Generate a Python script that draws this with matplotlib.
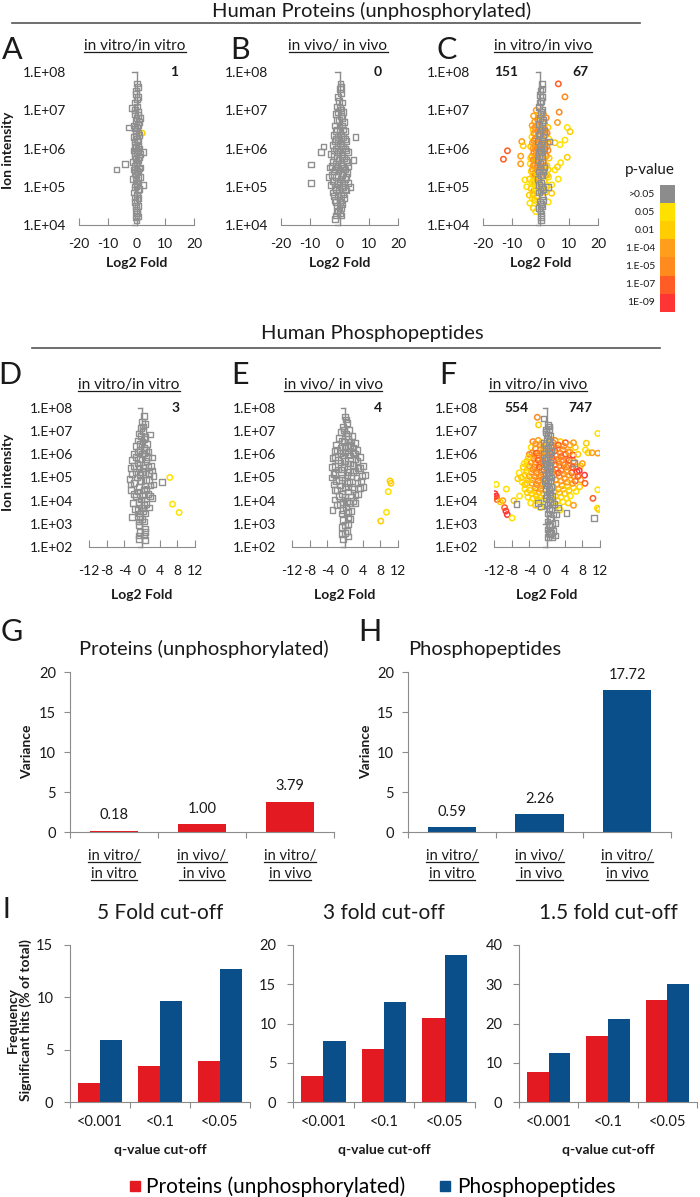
import numpy as np
import matplotlib.pyplot as plt
from matplotlib.lines import Line2D

plt.rcParams['font.family'] = ['Lato', 'DejaVu Sans']

# ---- scatter data: (log2 fold, log10 ion intensity) ----
a_gray = [(0.2, 7.7), (-0.3, 7.5), (0.5, 7.35), (-0.5, 7.2), (0.1, 7.1), (0.6, 6.95), (-0.6, 6.9),
          (0.0, 6.8), (0.8, 6.7), (-0.8, 6.6), (0.3, 6.55), (-0.2, 6.45), (1.0, 6.35), (-1.0, 6.3),
          (0.4, 6.2), (-0.4, 6.1), (0.9, 6.0), (-0.9, 5.95), (0.2, 5.9), (1.4, 5.85), (-0.6, 5.8),
          (0.6, 5.7), (-1.2, 5.65), (0.0, 5.6), (1.1, 5.5), (-0.8, 5.45), (0.5, 5.4), (-0.3, 5.3),
          (1.2, 5.25), (-1.1, 5.2), (0.3, 5.1), (2.4, 5.05), (-0.5, 5.0), (0.8, 4.95), (-0.9, 4.85),
          (0.1, 4.8), (0.7, 4.7), (-0.4, 4.6), (0.4, 4.5), (-0.2, 4.4), (0.3, 4.3), (-0.1, 4.2),
          (0.0, 4.12), (-7.0, 5.45), (-4.1, 5.6), (2.4, 5.9), (-2.7, 6.55), (1.3, 6.8), (-1.5, 7.05)]
a_gray_fill = [(0.5, 7.6), (-0.1, 7.42), (0.3, 7.28), (-0.4, 7.0), (0.4, 6.88), (-0.1, 6.72), (0.5, 6.62),
               (-0.6, 6.52), (0.7, 6.42), (-0.3, 6.32), (0.1, 6.25), (-0.7, 6.18), (0.6, 6.08), (-0.2, 6.02),
               (0.4, 5.95), (-0.4, 5.88), (0.9, 5.78), (-0.1, 5.72), (0.3, 5.62), (-0.7, 5.55), (0.8, 5.48),
               (0.1, 5.42), (-0.6, 5.35), (0.6, 5.22), (-0.2, 5.18), (0.0, 5.02), (0.5, 4.9), (-0.6, 4.72),
               (0.2, 4.65), (-0.3, 4.5), (0.1, 4.35), (0.4, 4.22)]
a_sig = [(2.0, 6.4, 2)]

b_gray = [(0.3, 7.7), (0.1, 7.55), (0.6, 7.45), (-0.4, 7.35), (0.8, 7.2), (-0.8, 7.1), (0.2, 7.05),
          (1.2, 6.95), (-1.2, 6.9), (0.5, 6.85), (-0.2, 6.75), (1.6, 6.7), (-1.6, 6.6), (0.9, 6.6),
          (-0.9, 6.5), (2.0, 6.45), (0.1, 6.45), (-2.0, 6.35), (1.3, 6.3), (-1.3, 6.25), (2.4, 6.2),
          (-0.5, 6.2), (0.7, 6.1), (-2.4, 6.1), (1.8, 6.0), (-1.8, 5.95), (0.0, 5.95), (2.8, 5.9),
          (-2.8, 5.85), (1.0, 5.8), (-1.0, 5.75), (2.2, 5.7), (-2.2, 5.65), (0.4, 5.6), (3.1, 5.55),
          (-3.3, 5.5), (1.5, 5.5), (-1.5, 5.45), (-0.3, 5.4), (2.6, 5.35), (-2.6, 5.3), (0.8, 5.3),
          (-3.8, 5.25), (1.9, 5.2), (-1.9, 5.15), (0.0, 5.1), (2.9, 5.1), (-2.9, 5.05), (1.2, 5.0),
          (-1.2, 4.95), (2.3, 4.9), (-2.3, 4.85), (0.5, 4.8), (-0.6, 4.75), (1.7, 4.7), (-1.7, 4.65),
          (0.1, 4.6), (1.0, 4.55), (-1.0, 4.5), (0.4, 4.45), (-0.5, 4.38), (-1.2, 4.25), (-1.6, 4.15),
          (0.2, 4.3), (-9.7, 5.58), (-9.7, 5.1), (-6.4, 5.9), (-5.5, 6.05), (5.5, 6.3), (4.8, 5.7),
          (3.8, 5.0)]
b_gray_fill = [(0.6, 7.6), (-0.2, 7.25), (0.4, 7.0), (-0.6, 6.95), (0.9, 6.8), (-1.0, 6.75), (0.0, 6.6),
               (1.4, 6.5), (-1.2, 6.45), (0.5, 6.35), (-0.4, 6.3), (1.8, 6.25), (-1.6, 6.2), (0.2, 6.15),
               (1.2, 6.05), (-1.4, 6.0), (2.2, 5.95), (-0.6, 5.9), (0.7, 5.85), (-2.0, 5.8), (1.6, 5.75),
               (-0.3, 5.7), (2.6, 5.65), (-1.4, 5.6), (0.9, 5.55), (-2.6, 5.55), (1.9, 5.45), (-0.8, 5.5),
               (0.2, 5.45), (-2.0, 5.4), (1.2, 5.35), (2.3, 5.25), (-1.2, 5.25), (0.5, 5.2), (-2.4, 5.15),
               (1.5, 5.1), (-0.6, 5.1), (0.8, 5.0), (-1.6, 5.0), (1.9, 4.95), (-0.2, 4.9), (-2.0, 4.75),
               (1.3, 4.8), (0.6, 4.65), (-1.3, 4.6), (0.0, 4.45), (-0.8, 4.35), (0.6, 4.25)]
b_sig = []

c_gray = [(0.4, 7.69), (-0.3, 7.4), (0.6, 7.55), (0.2, 7.25), (-0.5, 7.1), (0.7, 7.0), (0.0, 6.9),
          (1.0, 6.75), (-0.6, 6.65), (0.4, 6.55), (1.4, 6.45), (-0.3, 6.4), (0.8, 6.3), (3.1, 6.18),
          (-0.8, 6.2), (0.2, 6.1), (1.1, 6.0), (-0.5, 5.9), (0.6, 5.8), (-1.0, 5.7), (0.0, 5.6),
          (1.2, 5.5), (-0.4, 5.4), (0.7, 5.3), (-0.8, 5.2), (0.3, 5.1), (2.7, 5.0), (1.0, 4.95),
          (-0.5, 4.85), (0.4, 4.75), (-0.2, 4.6), (0.6, 4.5), (0.0, 4.4), (0.3, 4.3), (0.1, 4.2),
          (0.2, 4.12)]
c_gray_fill = [(0.0, 7.5), (0.5, 7.35), (-0.2, 7.2), (0.3, 6.95), (-0.3, 6.8), (0.5, 6.7), (0.0, 6.5),
               (-0.5, 6.35), (0.5, 6.2), (-0.2, 6.0), (0.3, 5.9), (-0.6, 5.8), (0.4, 5.65), (-0.2, 5.5),
               (0.8, 5.4), (0.1, 5.3), (-0.5, 5.05), (0.6, 5.0), (0.0, 4.9), (0.8, 4.65), (-0.4, 4.45),
               (0.3, 4.55)]
c_sig = [(6.2, 7.69, 5), (8.5, 7.35, 4), (6.5, 6.95, 4), (5.9, 6.68, 3), (9.3, 6.55, 1), (10.3, 6.44, 2),
         (8.5, 6.22, 1), (5.0, 6.15, 2), (6.8, 6.1, 1), (-11.5, 5.94, 5), (-12.9, 5.72, 5), (-6.5, 6.18, 3),
         (-6.0, 6.07, 2), (-6.9, 5.8, 3), (-6.9, 5.6, 3), (9.3, 5.77, 2), (7.0, 5.63, 1), (5.9, 5.52, 2),
         (6.2, 5.2, 1), (5.0, 5.44, 1), (3.9, 5.05, 1), (3.9, 4.83, 2), (-5.4, 5.18, 1), (-4.8, 5.0, 1),
         (-3.9, 4.78, 2), (-3.7, 4.57, 1), (-2.5, 4.44, 2), (-1.6, 4.35, 1), (2.7, 4.6, 1), (2.2, 5.0, 2),
         (-1.5, 7.0, 3), (-0.8, 6.85, 2), (-2.0, 6.7, 3), (-1.2, 6.6, 4), (-2.6, 6.5, 2), (-1.7, 6.4, 3),
         (-0.7, 6.35, 4), (-3.0, 6.3, 1), (-2.2, 6.2, 4), (-1.3, 6.15, 3), (-3.4, 6.05, 2), (-2.6, 6.0, 3),
         (-1.6, 5.95, 4), (-0.8, 5.9, 3), (-3.0, 5.8, 3), (-2.0, 5.75, 4), (-1.1, 5.7, 2), (-3.6, 5.6, 1),
         (-2.6, 5.55, 3), (-1.5, 5.5, 4), (-0.7, 5.45, 3), (-3.2, 5.4, 2), (-2.2, 5.35, 3), (-1.2, 5.3, 2),
         (-3.8, 5.2, 2), (-2.7, 5.15, 1), (-1.8, 5.1, 3), (-0.9, 5.05, 2), (-3.3, 4.95, 2), (-2.3, 4.9, 3),
         (-1.4, 4.85, 1), (-2.9, 4.7, 1), (-2.0, 4.65, 2), (-1.0, 4.6, 1),
         (1.0, 6.9, 3), (2.0, 6.8, 4), (1.4, 6.65, 3), (2.6, 6.55, 2), (0.9, 6.45, 4), (1.8, 6.35, 3),
         (2.9, 6.25, 1), (1.2, 6.15, 4), (2.3, 6.05, 3), (0.8, 5.95, 3), (1.7, 5.85, 4), (3.0, 5.75, 2),
         (1.1, 5.65, 3), (2.2, 5.55, 2), (0.9, 5.4, 2), (1.8, 5.3, 3), (2.8, 5.25, 1), (1.3, 5.15, 2),
         (2.2, 5.05, 1), (1.0, 4.95, 1), (1.7, 4.85, 2)]
c_sig_fill = [(-2.4, 6.85, 3), (-1.0, 6.75, 4), (-1.9, 6.55, 4), (-2.9, 6.6, 3), (-0.9, 6.55, 3),
              (-2.3, 6.4, 3), (-1.0, 6.45, 4), (-1.9, 6.25, 4), (-2.8, 6.15, 3), (-0.6, 6.1, 4),
              (-1.9, 6.05, 3), (-1.1, 6.0, 4), (-2.3, 5.9, 4), (-1.3, 5.85, 3), (-3.4, 5.75, 2),
              (-2.5, 5.7, 4), (-1.6, 5.7, 3), (-0.6, 5.65, 4), (-2.0, 5.55, 3), (-1.0, 5.5, 4),
              (-2.8, 5.45, 3), (-1.8, 5.3, 4), (-0.8, 5.25, 3), (-2.6, 5.3, 2), (-1.4, 5.15, 2),
              (-2.2, 5.05, 2), (-3.0, 5.1, 1), (-1.8, 4.95, 1), (-2.6, 4.8, 2), (-1.2, 4.75, 2),
              (1.5, 6.5, 4), (2.3, 6.4, 4), (0.8, 6.25, 3), (1.6, 6.1, 4), (2.6, 6.15, 3), (1.3, 5.95, 4),
              (2.0, 5.8, 3), (2.6, 5.95, 4), (0.7, 5.75, 3), (1.5, 5.55, 4), (2.6, 5.45, 2), (1.4, 5.35, 3),
              (2.4, 5.3, 2)]

d_gray = [(0.4, 7.64), (0.6, 7.3), (-0.3, 7.15), (1.8, 6.86), (0.2, 7.0), (-0.6, 6.9), (0.8, 6.75),
          (-1.0, 6.6), (0.1, 6.55), (1.2, 6.45), (-1.4, 6.35), (0.5, 6.3), (-0.5, 6.2), (1.5, 6.1),
          (-1.8, 6.0), (0.0, 6.0), (2.2, 5.86), (-2.2, 5.75), (1.0, 5.7), (-1.0, 5.6), (2.0, 5.5),
          (-2.6, 5.4), (0.3, 5.4), (-1.5, 5.25), (1.6, 5.2), (-0.4, 5.1), (2.6, 5.05), (-2.8, 4.95),
          (0.9, 4.9), (4.6, 4.82), (-1.8, 4.75), (1.9, 4.65), (-0.7, 4.6), (-2.5, 4.45), (0.4, 4.45),
          (1.4, 4.3), (-1.4, 4.2), (2.3, 4.1), (-0.2, 4.05), (-2.0, 3.9), (1.0, 3.85), (0.0, 3.7),
          (-1.0, 3.6), (-2.2, 3.3), (0.8, 3.45), (-0.4, 3.3), (0.5, 3.1), (-0.6, 2.95), (0.6, 2.8),
          (-0.5, 2.65), (0.5, 2.5), (-0.6, 2.35), (0.6, 2.3)]
d_gray_fill = [(0.0, 7.4), (0.3, 7.2), (-0.2, 6.8), (0.5, 6.65), (-0.4, 6.45), (0.9, 6.2), (-0.9, 6.1),
               (0.4, 6.05), (-1.4, 5.9), (1.4, 5.9), (-0.4, 5.8), (0.6, 5.55), (-1.8, 5.5), (1.5, 5.45),
               (-0.8, 5.4), (0.0, 5.25), (2.2, 5.3), (-2.2, 5.15), (0.8, 5.15), (-1.2, 5.0), (1.6, 4.9),
               (-0.2, 4.85), (2.6, 4.7), (-2.6, 4.7), (0.6, 4.65), (-1.0, 4.4), (1.0, 4.5), (0.2, 4.25),
               (-1.8, 4.3), (1.8, 4.2), (-0.8, 3.95), (0.5, 3.8), (1.6, 3.7), (-1.6, 3.65), (0.3, 3.55),
               (-0.6, 3.45), (0.0, 3.2), (-0.6, 3.1), (0.6, 2.65), (-0.6, 2.5)]
d_sig = [(6.3, 5.0, 1), (6.9, 3.85, 1), (8.4, 3.49, 1)]

e_gray = [(0.0, 7.63), (0.5, 7.35), (-0.4, 7.2), (1.0, 7.05), (-0.9, 6.95), (0.2, 6.9), (1.6, 6.8),
          (-1.4, 6.7), (0.7, 6.65), (-0.3, 6.55), (2.2, 6.5), (-2.0, 6.4), (1.2, 6.4), (0.0, 6.3),
          (2.8, 6.2), (-2.4, 6.15), (1.8, 6.1), (-1.0, 6.05), (0.6, 6.0), (3.4, 5.9), (-2.8, 5.85),
          (2.4, 5.8), (-1.6, 5.75), (0.0, 5.7), (1.2, 5.6), (4.0, 5.5), (-2.9, 5.45), (3.0, 5.4),
          (-0.8, 5.35), (1.8, 5.25), (-2.2, 5.2), (4.5, 5.1), (0.4, 5.1), (-3.0, 5.0), (2.6, 5.0),
          (-1.4, 4.9), (3.6, 4.85), (1.0, 4.8), (-2.5, 4.7), (4.2, 4.6), (0.0, 4.6), (2.0, 4.5),
          (-1.8, 4.45), (3.0, 4.3), (-0.6, 4.3), (1.4, 4.15), (-2.4, 4.05), (0.5, 4.0), (2.4, 3.9),
          (-1.2, 3.85), (-2.8, 3.6), (0.2, 3.7), (1.5, 3.55), (-0.8, 3.45), (0.8, 3.3), (-0.5, 3.15),
          (0.6, 3.0), (-0.7, 2.85), (0.5, 2.7), (-0.6, 2.55), (0.6, 2.45), (-0.4, 2.35)]
e_gray_fill = [(0.3, 7.5), (-0.2, 7.05), (0.6, 6.8), (-0.6, 6.6), (1.4, 6.55), (-1.0, 6.3), (0.6, 6.35),
               (1.8, 6.3), (-1.8, 6.2), (0.0, 6.1), (2.2, 6.0), (-0.4, 5.95), (1.2, 5.95), (-2.2, 5.9),
               (2.8, 5.7), (-1.0, 5.65), (0.6, 5.6), (1.8, 5.55), (-2.2, 5.5), (3.4, 5.4), (-0.2, 5.45),
               (-1.6, 5.35), (2.4, 5.3), (0.8, 5.25), (-2.6, 5.15), (3.8, 5.05), (1.4, 5.05), (-0.6, 5.0),
               (-2.0, 4.85), (2.8, 4.75), (0.4, 4.75), (-1.2, 4.65), (1.6, 4.6), (3.4, 4.55), (-2.2, 4.45),
               (0.6, 4.4), (2.4, 4.25), (-1.4, 4.2), (0.0, 4.15), (1.8, 4.0), (-0.4, 3.95), (1.0, 3.9),
               (-1.8, 3.8), (0.6, 3.5), (-0.4, 3.6), (1.2, 3.2), (0.0, 2.95), (0.0, 2.6)]
e_sig = [(10.2, 4.85, 2), (10.4, 4.75, 2), (9.8, 4.39, 1), (9.4, 3.5, 1), (8.1, 3.12, 2)]

f_gray = [(-0.8, 7.55), (0.2, 7.27), (0.5, 7.1), (-0.3, 6.95), (0.8, 6.8), (0.0, 6.65), (-0.6, 6.5),
          (0.6, 6.4), (-0.2, 6.25), (1.0, 6.15), (-0.7, 6.0), (0.3, 5.9), (-0.4, 5.75), (0.8, 5.65),
          (6.1, 5.64), (0.0, 5.5), (-0.6, 5.35), (0.5, 5.25), (-0.2, 5.1), (1.0, 5.0), (-0.5, 4.85),
          (0.3, 4.75), (0.9, 4.6), (-0.3, 4.5), (0.4, 4.35), (1.2, 4.2), (-0.2, 4.1), (0.7, 3.95),
          (1.6, 3.85), (0.1, 3.8), (2.5, 3.7), (1.0, 3.6), (0.2, 3.45), (2.0, 3.4), (0.9, 3.25),
          (0.1, 3.1), (1.8, 3.05), (0.7, 2.9), (0.1, 2.75), (1.4, 2.7), (0.6, 2.55), (0.2, 2.42),
          (1.2, 2.42), (-6.9, 3.86), (-1.3, 3.75), (4.4, 3.46), (10.6, 3.25), (-2.0, 3.9)]
f_gray_fill = [(0.4, 7.2), (-0.2, 7.05), (0.3, 6.85), (0.5, 6.55), (-0.3, 6.4), (0.3, 6.3), (0.5, 6.0),
               (-0.2, 5.85), (0.4, 5.55), (-0.3, 5.6), (0.8, 5.4), (0.1, 5.2), (0.5, 5.05), (-0.3, 4.95),
               (0.7, 4.85), (0.0, 4.65), (0.5, 4.5), (0.8, 4.3), (0.0, 4.25), (0.5, 4.05), (1.2, 3.95),
               (0.4, 3.65), (1.4, 3.4), (0.6, 3.25), (1.2, 3.0), (0.4, 2.95), (0.9, 2.6), (1.8, 2.5),
               (0.4, 2.6)]
f_sig = [(-2.2, 7.6, 4), (-1.9, 7.27, 2),
         (-3.2, 6.55, 4), (-2.0, 6.6, 3), (-1.2, 6.5, 2), (-3.6, 6.3, 1), (-2.6, 6.25, 4), (-1.5, 6.2, 3),
         (-0.7, 6.3, 2), (-4.0, 6.0, 4), (-3.0, 5.95, 3), (-2.0, 5.95, 4), (-1.0, 5.9, 3), (-4.6, 5.7, 2),
         (-3.6, 5.65, 4), (-2.6, 5.65, 3), (-1.6, 5.6, 4), (-0.8, 5.55, 3), (-5.4, 5.45, 2), (-4.4, 5.4, 1),
         (-3.2, 5.35, 4), (-2.2, 5.35, 3), (-1.2, 5.25, 4), (-6.3, 5.2, 1), (-5.0, 5.1, 2), (-4.0, 5.05, 3),
         (-2.8, 5.05, 4), (-1.8, 5.0, 3), (-0.8, 4.95, 4), (-6.6, 4.95, 2), (-5.6, 4.8, 1), (-4.5, 4.75, 2),
         (-3.4, 4.75, 3), (-2.4, 4.7, 4), (-1.3, 4.65, 3), (-5.0, 4.5, 1), (-3.9, 4.45, 2), (-2.8, 4.4, 1),
         (-1.8, 4.35, 3), (-0.9, 4.3, 2), (-4.3, 4.15, 1), (-3.2, 4.1, 2), (-2.2, 4.05, 1), (-1.2, 4.0, 1),
         (-3.7, 3.9, 1), (-2.6, 3.8, 2), (-1.5, 3.7, 1), (-6.2, 4.2, 1), (-7.5, 4.0, 2),
         (0.8, 6.65, 2), (1.8, 6.6, 4), (3.0, 6.55, 2), (4.2, 6.5, 5), (5.2, 6.4, 3), (6.4, 6.3, 2),
         (1.2, 6.3, 4), (2.4, 6.25, 3), (3.6, 6.2, 4), (4.8, 6.1, 3), (0.9, 6.0, 3), (2.0, 5.95, 4),
         (3.2, 5.9, 5), (4.4, 5.8, 4), (5.9, 5.97, 6), (1.4, 5.7, 4), (2.6, 5.65, 3), (3.8, 5.55, 5),
         (5.0, 5.5, 4), (6.6, 5.45, 3), (7.6, 5.5, 2), (1.0, 5.4, 3), (2.0, 5.35, 4), (3.2, 5.3, 5),
         (4.4, 5.25, 3), (5.6, 5.2, 5), (6.8, 5.25, 6), (8.5, 5.1, 6), (7.3, 5.3, 6), (1.6, 5.1, 4),
         (2.8, 5.05, 3), (4.0, 4.95, 4), (5.2, 4.9, 2), (6.4, 4.85, 5), (7.6, 4.9, 3), (8.6, 4.75, 5),
         (1.0, 4.8, 3), (2.2, 4.7, 2), (3.4, 4.65, 4), (4.6, 4.6, 2), (6.0, 4.55, 2), (1.6, 4.4, 2),
         (2.8, 4.35, 1), (4.0, 4.3, 3), (5.3, 4.2, 1), (6.6, 4.4, 1), (1.2, 4.1, 1), (2.4, 4.0, 2),
         (3.6, 3.95, 1), (4.8, 3.9, 2), (1.8, 3.75, 1), (3.0, 3.6, 1), (6.0, 3.8, 3),
         (11.5, 6.9, 1), (8.9, 6.48, 2), (8.7, 6.19, 1), (9.3, 6.07, 2), (10.2, 6.07, 3), (11.5, 6.05, 3),
         (10.4, 4.1, 5), (11.5, 4.47, 1), (11.4, 3.68, 1), (11.7, 3.62, 2),
         (-11.8, 4.3, 6), (-11.5, 4.2, 6), (-12.0, 4.15, 6), (-11.3, 4.05, 5), (-9.6, 3.7, 5), (-9.3, 3.55, 6),
         (-9.0, 3.4, 6), (-7.9, 3.25, 1), (-11.5, 4.7, 1), (-9.2, 4.5, 1), (-10.0, 4.0, 3), (-10.6, 3.95, 2)]
f_sig_fill = [(-2.6, 6.45, 3), (-1.6, 6.4, 4), (-3.4, 6.05, 4), (-2.4, 6.05, 5), (-1.4, 6.05, 4),
              (-0.8, 6.15, 3), (-3.0, 5.8, 4), (-2.0, 5.75, 5), (-1.1, 5.72, 4), (-4.0, 5.5, 3),
              (-2.8, 5.45, 4), (-1.7, 5.45, 5), (-0.8, 5.35, 4), (-3.5, 5.2, 3), (-2.4, 5.2, 4),
              (-1.4, 5.1, 4), (-4.6, 5.25, 2), (-3.2, 4.9, 3), (-2.0, 4.85, 4), (-1.0, 4.75, 3),
              (-4.2, 4.9, 2), (-2.6, 4.55, 3), (-1.5, 4.5, 3), (-3.4, 4.3, 2), (-2.4, 4.2, 2),
              (-1.6, 4.15, 2), (-5.8, 5.0, 2), (-5.0, 4.7, 2), (-4.5, 4.35, 2), (-5.2, 5.6, 1),
              (-4.2, 5.85, 2),
              (1.4, 6.5, 4), (2.6, 6.4, 5), (3.8, 6.35, 4), (1.0, 6.15, 4), (1.8, 6.15, 5), (3.0, 6.05, 4),
              (4.2, 6.0, 5), (5.2, 6.1, 3), (1.2, 5.85, 5), (2.6, 5.8, 4), (3.6, 5.75, 4), (5.0, 5.75, 5),
              (6.0, 5.7, 4), (1.8, 5.55, 5), (3.0, 5.5, 4), (4.4, 5.45, 4), (5.8, 5.45, 5), (1.4, 5.25, 4),
              (2.6, 5.2, 5), (3.8, 5.15, 4), (5.0, 5.1, 3), (6.2, 5.05, 4), (7.0, 5.05, 5), (2.0, 4.9, 4),
              (3.2, 4.85, 3), (4.6, 4.8, 3), (5.8, 4.75, 3), (1.4, 4.6, 3), (2.6, 4.5, 3), (3.8, 4.5, 2),
              (5.0, 4.45, 2), (2.0, 4.2, 2), (3.2, 4.15, 2), (4.4, 4.1, 1), (7.4, 4.6, 2), (8.0, 5.6, 3),
              (7.0, 6.0, 2), (6.0, 6.5, 3)]

# p-value classes for the colour key
p_labels = ['>0.05', '0.05', '0.01', '1.E-04', '1.E-05', '1.E-07', '1E-09']
p_colors = ['#8c8c8c', '#ffe100', '#ffcd00', '#ff9e1b', '#ff8a1e', '#ff5c26', '#ff3535']

# ---- bar data ----
var_cats = [('in vitro/', 'in vitro'), ('in vivo/', ' in vivo'), ('in vitro/', 'in vivo')]
var_proteins = [0.18, 1.00, 3.79]
var_phospho = [0.59, 2.26, 17.72]

q_cats = ['<0.001', '<0.1', '<0.05']
cutoff_titles = ['5 Fold cut-off', '3 fold cut-off', '1.5 fold cut-off']
hits_proteins = [[1.84, 3.47, 3.94], [3.35, 6.75, 10.66], [7.7, 16.9, 26.0]]
hits_phospho = [[5.92, 9.68, 12.67], [7.77, 12.7, 18.7], [12.6, 21.1, 30.06]]

RED = '#e31a22'
BLUE = '#0b4f8a'
AXC = '#8c8c8c'
TXT = '#1a1a1a'

W, H = 700, 1197
fig = plt.figure(figsize=(W / 100, H / 100), dpi=100)


def box(l, t, r, b):
    return [l / W, 1 - b / H, (r - l) / W, (b - t) / H]


def ftext(x, y, s, **kw):
    kw.setdefault('color', TXT)
    return fig.text(x / W, 1 - y / H, s, **kw)


def hline(x0, x1, y, color='#555555', lw=1.2):
    fig.add_artist(Line2D([x0 / W, x1 / W], [1 - y / H, 1 - y / H], color=color, lw=lw))


underlined = []


def scatter_panel(rect, xlim, xticks, ylim, gray, sig, xpad, ypad):
    ax = fig.add_axes(box(*rect))
    ax.set_xlim(xlim)
    ax.set_ylim(ylim)
    if sig:
        sx, sy, sc = zip(*sig)
        ax.scatter(sx, sy, s=15, facecolors='none', edgecolors=[p_colors[c] for c in sc],
                   linewidths=1.1, zorder=2)
    gx, gy = zip(*gray)
    ax.scatter(gx, gy, s=17, marker='s', facecolors='none', edgecolors='#8f8f8f',
               linewidths=1.0, zorder=3)
    for s in ['top', 'right', 'left']:
        ax.spines[s].set_visible(False)
    ax.spines['bottom'].set_color(AXC)
    ax.plot([0, 0], [ylim[0], ylim[1]], color=AXC, lw=1, zorder=1.5, clip_on=False)
    tl = 0.035 * (xlim[1] - xlim[0])
    for v in range(ylim[0], ylim[1] + 1):
        ax.plot([-tl, 0], [v, v], color=AXC, lw=1, zorder=1.5, clip_on=False)
    ax.set_xticks(xticks)
    ax.set_xticklabels([str(t) for t in xticks])
    ax.set_yticks(range(ylim[0], ylim[1] + 1))
    ax.set_yticklabels(['1.E+%02d' % v for v in range(ylim[0], ylim[1] + 1)])
    ax.tick_params(axis='x', direction='in', length=5, color=AXC, labelsize=10, pad=xpad,
                   labelcolor=TXT)
    ax.tick_params(axis='y', length=0, labelsize=10, pad=ypad, labelcolor=TXT)
    ax.patch.set_alpha(0)
    return ax


# ---------------- top row: proteins ----------------
ftext(372, 11, 'Human Proteins (unphosphorylated)', fontsize=14.5, ha='center', va='center')
hline(12, 640, 23)
rects1 = [(79, 72, 194, 225), (281, 72, 398, 225), (483, 72, 598, 225)]
data1 = [(a_gray + a_gray_fill, a_sig), (b_gray + b_gray_fill, b_sig), (c_gray + c_gray_fill, c_sig + c_sig_fill)]
subs1 = ['in vitro/in vitro', 'in vivo/ in vivo', 'in vitro/in vivo']
letters1 = [('A', 12), ('B', 240), ('C', 447)]
sub_x1 = [135, 338, 543]
for r, (g, s), sub, (let, lx), sx in zip(rects1, data1, subs1, letters1, sub_x1):
    scatter_panel(r, (-20, 20), [-20, -10, 0, 10, 20], (4, 8), g, s, 9, 9.5)
    ftext(lx, 50, let, fontsize=22, ha='center', va='center')
    underlined.append(ftext(sx, 46, sub, fontsize=11, ha='center', va='center'))
    ftext((r[0] + r[2]) / 2, 263, 'Log2 Fold', fontsize=10, fontweight='bold', ha='center', va='center')
ftext(174, 72, '1', fontsize=10, fontweight='bold', ha='center', va='center')
ftext(378, 72, '0', fontsize=10, fontweight='bold', ha='center', va='center')
ftext(506, 72, '151', fontsize=10, fontweight='bold', ha='center', va='center')
ftext(580, 72, '67', fontsize=10, fontweight='bold', ha='center', va='center')
ftext(8, 150, 'Ion intensity', fontsize=10, fontweight='bold', rotation=90, ha='center', va='center')

# p-value colour key
ftext(650, 170, 'p-value', fontsize=11, ha='center', va='center')
seg_top, seg_h = 185, 18.1
for i, (lab, col) in enumerate(zip(p_labels, p_colors)):
    y0 = seg_top + i * seg_h
    fig.add_artist(plt.Rectangle((660 / W, 1 - (y0 + seg_h) / H), 15 / W, seg_h / H,
                                 color=col, lw=0, transform=fig.transFigure))
    ftext(655, y0 + seg_h / 2, lab, fontsize=7.5, ha='right', va='center')

# ---------------- second row: phosphopeptides ----------------
ftext(372, 333, 'Human Phosphopeptides', fontsize=14.5, ha='center', va='center')
hline(32, 660, 348)
rects2 = [(89, 408, 195, 547), (292, 408, 398, 547), (494, 408, 600, 547)]
data2 = [(d_gray + d_gray_fill, d_sig), (e_gray + e_gray_fill, e_sig), (f_gray + f_gray_fill, f_sig + f_sig_fill)]
subs2 = ['in vitro/in vitro', 'in vivo/ in vivo', 'in vitro/in vivo']
letters2 = [('D', 10), ('E', 240), ('F', 448)]
sub_x2 = [129, 333, 538]
for r, (g, s), sub, (let, lx), sx in zip(rects2, data2, subs2, letters2, sub_x2):
    scatter_panel(r, (-12, 12), [-12, -8, -4, 0, 4, 8, 12], (2, 8), g, s, 13, 11.5)
    ftext(lx, 375, let, fontsize=22, ha='center', va='center')
    underlined.append(ftext(sx, 385, sub, fontsize=11, ha='center', va='center'))
    ftext((r[0] + r[2]) / 2, 595, 'Log2 Fold', fontsize=10, fontweight='bold', ha='center', va='center')
ftext(176, 408, '3', fontsize=10, fontweight='bold', ha='center', va='center')
ftext(378, 408, '4', fontsize=10, fontweight='bold', ha='center', va='center')
ftext(517, 408, '554', fontsize=10, fontweight='bold', ha='center', va='center')
ftext(580, 408, '747', fontsize=10, fontweight='bold', ha='center', va='center')
ftext(8, 472, 'Ion intensity', fontsize=10, fontweight='bold', rotation=90, ha='center', va='center')


# ---------------- variance bars ----------------
def bar_axes(rect, ylim, yticks, pad=6):
    ax = fig.add_axes(box(*rect))
    ax.set_xlim(-0.5, 2.5)
    ax.set_ylim(ylim)
    ax.set_yticks(yticks)
    for s in ['top', 'right']:
        ax.spines[s].set_visible(False)
    for s in ['left', 'bottom']:
        ax.spines[s].set_color(AXC)
    ax.set_xticks([-0.5, 0.5, 1.5, 2.5])
    ax.set_xticklabels([])
    ax.tick_params(axis='x', direction='out', length=4, color=AXC)
    ax.tick_params(axis='y', direction='out', length=4, color=AXC, labelsize=10.5,
                   labelcolor=TXT, pad=pad)
    ax.patch.set_alpha(0)
    return ax


var_sets = [(var_proteins, RED, (70, 672, 334, 832), 'G', 12, 'Proteins (unphosphorylated)', 204, 27),
            (var_phospho, BLUE, (408, 672, 671, 832), 'H', 370, 'Phosphopeptides', 485, 366)]
for vals, col, r, let, lx, title, tx, vx in var_sets:
    ax = bar_axes(r, (0, 20), [0, 5, 10, 15, 20])
    ax.bar(range(3), vals, width=0.55, color=col)
    for i, v in enumerate(vals):
        ax.annotate('%.2f' % v, (i, v), xytext=(0, 6), textcoords='offset points',
                    ha='center', va='bottom', fontsize=10.5, color=TXT)
    ftext(lx, 632, let, fontsize=22, ha='center', va='center')
    ftext(tx, 649, title, fontsize=14.5, ha='center', va='center')
    ftext(vx, 752, 'Variance', fontsize=10, fontweight='bold', rotation=90, ha='center', va='center')
    cw = (r[2] - r[0]) / 3
    for i, (l1, l2) in enumerate(var_cats):
        cx = r[0] + cw * (i + 0.5)
        underlined.append(ftext(cx, 856, l1, fontsize=10.5, ha='center', va='center'))
        underlined.append(ftext(cx, 874, l2, fontsize=10.5, ha='center', va='center'))

# ---------------- significant hits ----------------
ftext(6, 910, 'I', fontsize=20, ha='center', va='center')
rects3 = [(70, 945, 250, 1102), (293, 945, 475, 1102), (519, 945, 697, 1102)]
ylims3 = [(0, 15), (0, 20), (0, 40)]
yticks3 = [[0, 5, 10, 15], [0, 5, 10, 15, 20], [0, 10, 20, 30, 40]]
bw = 0.367
for k, r in enumerate(rects3):
    ax = bar_axes(r, ylims3[k], yticks3[k], pad=8)
    x = np.arange(3)
    ax.bar(x - bw / 2, hits_proteins[k], width=bw, color=RED)
    ax.bar(x + bw / 2, hits_phospho[k], width=bw, color=BLUE)
    for i, c in enumerate(q_cats):
        ax.text(i, -20 / 157, c, transform=ax.get_xaxis_transform(), ha='center', va='center',
                fontsize=10.5, color=TXT)
    cx = (r[0] + r[2]) / 2
    ftext(cx, 913, cutoff_titles[k], fontsize=15, ha='center', va='center')
    ftext(cx, 1150, 'q-value cut-off', fontsize=10, fontweight='bold', ha='center', va='center')
ftext(19, 1020, 'Frequency\nSignificant hits (% of total)', fontsize=10, fontweight='bold',
      rotation=90, ha='center', va='center', linespacing=1.05)

handles = [Line2D([], [], marker='s', ls='none', color=RED, markersize=7),
           Line2D([], [], marker='s', ls='none', color=BLUE, markersize=7)]
fig.legend(handles, ['Proteins (unphosphorylated)', 'Phosphopeptides'], loc='center',
           bbox_to_anchor=(372 / W, 1 - 1187 / H), ncol=2, frameon=False, fontsize=15,
           handlelength=0.6, handletextpad=0.25, columnspacing=1.6, borderpad=0)

# underline the comparison labels
renderer = fig.canvas.get_renderer()
for t in underlined:
    bb = t.get_window_extent(renderer).transformed(fig.transFigure.inverted())
    y = bb.y0 + 1.0 / H
    fig.add_artist(Line2D([bb.x0, bb.x1], [y, y], color=TXT, lw=0.9))

fig.savefig('out.png', dpi=100)
